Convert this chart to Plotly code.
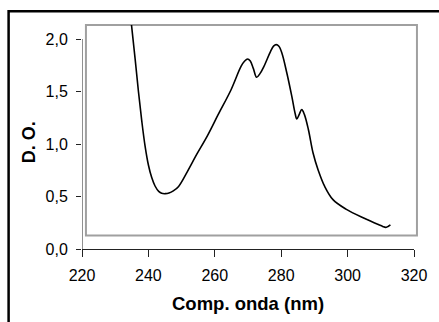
import plotly.graph_objects as go

# Spectrum (wavelength nm, optical density)
wavelength = [234.9, 236.0, 237.0, 238.0, 239.0, 240.0, 241.0, 242.0, 243.1, 244.0, 245.1, 246.2,
              247.5, 249.1, 251.7, 254.5, 257.8, 261.0, 264.9, 267.9, 269.0, 269.85, 270.7,
              271.6, 272.6, 273.6, 274.8, 276.8, 277.7, 278.5, 279.3, 280.2, 281.7, 283.2,
              284.2, 284.7, 285.4, 286.2, 287.0, 288.2, 289.6, 291.1, 293.1, 295.6, 299.5,
              305.5, 309.4, 310.6, 311.4, 312.2, 312.9]
absorbance = [2.136, 1.81, 1.50, 1.22, 0.98, 0.80, 0.68, 0.60, 0.549, 0.53, 0.527, 0.533,
              0.553, 0.596, 0.735, 0.898, 1.08, 1.279, 1.517, 1.739, 1.79, 1.81, 1.79,
              1.72, 1.635, 1.67, 1.739, 1.882, 1.932, 1.946, 1.93, 1.867, 1.676, 1.453,
              1.29, 1.238, 1.28, 1.327, 1.28, 1.136, 0.914, 0.755, 0.596, 0.47, 0.38,
              0.286, 0.231, 0.215, 0.206, 0.215, 0.229]

x_ticks = [220, 240, 260, 280, 300, 320]
y_ticks = [0.0, 0.5, 1.0, 1.5, 2.0]
x_title = "Comp. onda (nm)"
y_title = "D. O."

W, H = 439, 322
L, R, T, B = 82, 20, 25, 73
pw, ph = W - L - R, H - T - B

def px_x(p):
    return (p - L) / pw

def px_y(p):
    return (H - B - p) / ph

fig = go.Figure()
fig.add_trace(go.Scatter(x=wavelength, y=absorbance, mode="lines",
                         line=dict(color="black", width=1.6, shape="spline", smoothing=1.0),
                         hoverinfo="skip", showlegend=False))

font = "Arial, Liberation Sans, sans-serif"
fig.update_layout(
    width=W, height=H, margin=dict(l=L, r=R, t=T, b=B),
    paper_bgcolor="white", plot_bgcolor="white",
    separators=",.",
    showlegend=False,
    xaxis=dict(range=[220, 320], tickvals=x_ticks, showgrid=False, zeroline=False,
               showline=True, linecolor="#222", linewidth=1,
               ticks="outside", ticklen=7, tickcolor="#222", tickwidth=1,
               ticklabelstandoff=5,
               tickfont=dict(family=font, size=16, color="black")),
    yaxis=dict(range=[0, ph / 105.0], tickvals=y_ticks, tickformat=".1f",
               showgrid=False, zeroline=False, showline=False,
               ticks="outside", ticklen=5, tickcolor="#222", tickwidth=1,
               ticklabelstandoff=5,
               tickfont=dict(family=font, size=16, color="black")),
    shapes=[
        # y axis line (only up to 2,0)
        dict(type="line", xref="x", yref="y", x0=220, x1=220, y0=0, y1=2.0,
             line=dict(color="#222", width=1)),
        # gray plot-area box
        dict(type="rect", xref="paper", yref="paper",
             x0=px_x(86), x1=px_x(422), y0=px_y(235.5), y1=px_y(25),
             line=dict(color="#a0a0a0", width=2), layer="below"),
        # outer chart border
        dict(type="rect", xref="paper", yref="paper",
             x0=px_x(7.5), x1=px_x(450), y0=px_y(340), y1=px_y(11.3),
             line=dict(color="black", width=2.5)),
    ],
    annotations=[
        dict(text="<b>" + x_title + "</b>", xref="paper", yref="paper",
             x=px_x(250), y=px_y(303), showarrow=False,
             font=dict(family=font, size=18.5, color="black"), xanchor="center", yanchor="middle"),
        dict(text="<b>" + y_title + "</b>", xref="paper", yref="paper",
             x=px_x(28), y=px_y(142.5), showarrow=False, textangle=-90,
             font=dict(family=font, size=18, color="black"), xanchor="center", yanchor="middle"),
    ],
)

fig.write_html("out.html")
